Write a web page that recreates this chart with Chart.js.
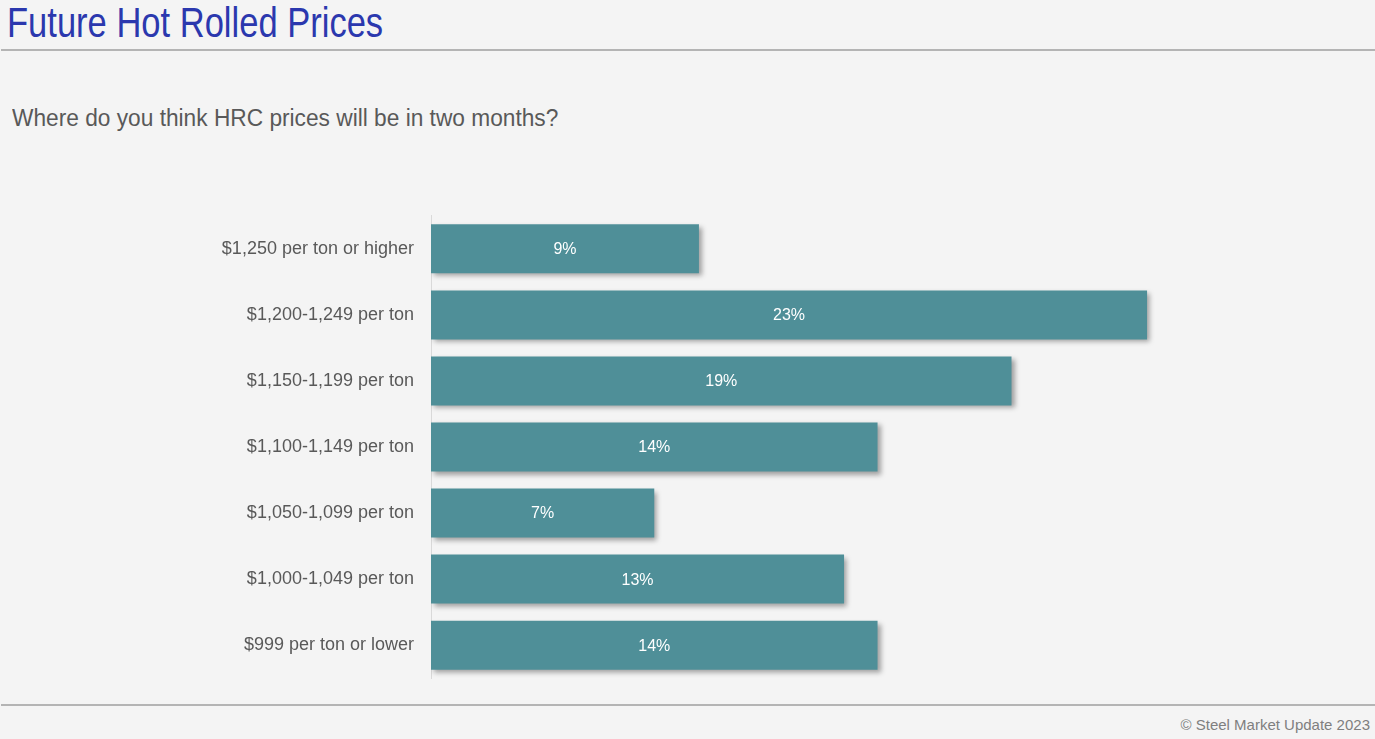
<!DOCTYPE html>
<html>
<head>
<meta charset="utf-8">
<script src="https://cdn.jsdelivr.net/npm/chart.js@4/dist/chart.umd.min.js"></script>
<style>
  html, body { margin: 0; padding: 0; background: #F4F4F4; }
  body { width: 1375px; height: 739px; position: relative; overflow: hidden; font-family: "Liberation Sans", Arial, sans-serif; }
  #title { position: absolute; left: 7px; top: 1px; font-size: 43px; line-height: 43px; color: #2B38AE; white-space: nowrap; transform: scaleX(0.803); transform-origin: 0 0; }
  #rule1 { position: absolute; left: 1px; right: 0; top: 49px; height: 2px; background: #B4B4B4; }
  #subtitle { position: absolute; left: 12px; top: 107px; font-size: 23px; line-height: 23px; color: #595959; white-space: nowrap; transform: scaleX(0.987); transform-origin: 0 0; }
  #rule2 { position: absolute; left: 1px; right: 0; top: 704px; height: 2px; background: #B4B4B4; }
  #footer { position: absolute; right: 5px; top: 717px; font-size: 15px; line-height: 16px; color: #7F7F7F; white-space: nowrap; }
  #wrap { position: absolute; left: 0; top: 196px; width: 1375px; height: 502px; }
</style>
</head>
<body>
<div id="title">Future Hot Rolled Prices</div>
<div id="rule1"></div>
<div id="subtitle">Where do you think HRC prices will be in two months?</div>
<div id="wrap"><canvas id="c"></canvas></div>
<div id="rule2"></div>
<div id="footer">© Steel Market Update 2023</div>
<script>
// Categories (top to bottom)
const categories = [
  "$1,250 per ton or higher",
  "$1,200-1,249 per ton",
  "$1,150-1,199 per ton",
  "$1,100-1,149 per ton",
  "$1,050-1,099 per ton",
  "$1,000-1,049 per ton",
  "$999 per ton or lower"
];
// Bar lengths (percent)
const values = [8.4, 22.45, 18.2, 14.0, 7.0, 12.95, 14.0];
// Data labels as printed on the bars
const barLabels = ["9%", "23%", "19%", "14%", "7%", "13%", "14%"];

const FONT = "'Liberation Sans', Arial, sans-serif";

const barPlugin = {
  id: 'barDecor',
  beforeDatasetsDraw(chart) {
    const ctx = chart.ctx;
    ctx.save();
    ctx.shadowColor = 'rgba(0,0,0,0.35)';
    ctx.shadowBlur = 5;
    ctx.shadowOffsetX = 3;
    ctx.shadowOffsetY = 3;
  },
  afterDatasetsDraw(chart) {
    const ctx = chart.ctx;
    ctx.restore();
    const meta = chart.getDatasetMeta(0);
    ctx.save();
    ctx.fillStyle = '#FFFFFF';
    ctx.font = '16px ' + FONT;
    ctx.textAlign = 'center';
    ctx.textBaseline = 'middle';
    meta.data.forEach((bar, i) => {
      const cx = (bar.x + bar.base) / 2;
      ctx.fillText(barLabels[i], cx, bar.y + 1);
    });
    ctx.restore();
  }
};

new Chart(document.getElementById('c'), {
  type: 'bar',
  data: {
    labels: categories,
    datasets: [{
      data: values,
      backgroundColor: '#4F8F98',
      borderWidth: 0,
      barPercentage: 0.742,
      categoryPercentage: 1.0
    }]
  },
  options: {
    indexAxis: 'y',
    responsive: true,
    maintainAspectRatio: false,
    animation: false,
    layout: { padding: { top: 4, bottom: 0, left: 0, right: 19 } },
    plugins: { legend: { display: false }, tooltip: { enabled: false } },
    scales: {
      x: {
        display: false,
        min: 0,
        max: 29
      },
      y: {
        grid: { display: false },
        border: { display: true, color: '#D9D9D9', width: 1 },
        ticks: { color: '#595959', font: { family: FONT, size: 18 }, padding: 9 },
        afterFit(scale) { scale.width = 431; }
      }
    }
  },
  plugins: [barPlugin]
});
</script>
</body>
</html>
